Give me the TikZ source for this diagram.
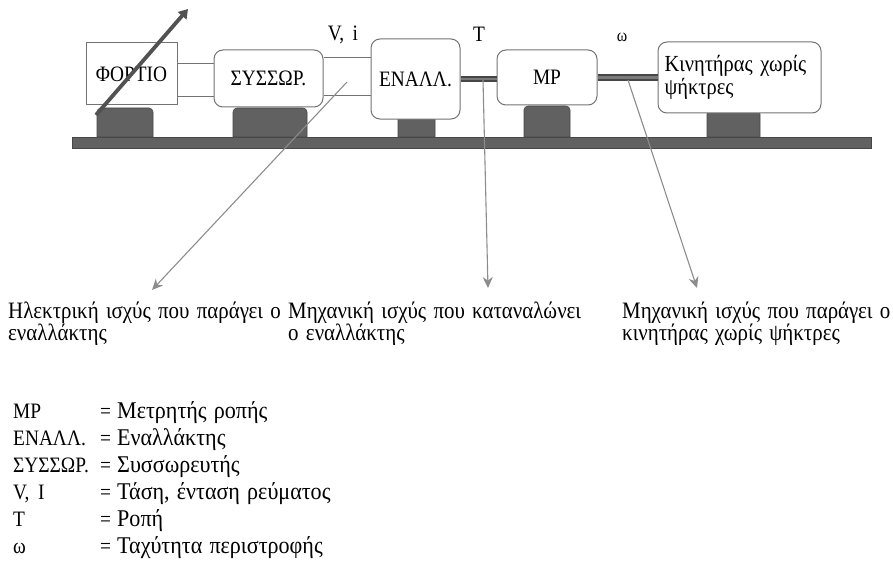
\documentclass[tikz,border=0pt]{standalone}
\usepackage{fontspec}
\setmainfont[FakeStretch=0.88]{Liberation Serif}
\newfontfamily\notefont[FakeStretch=0.89, WordSpace=1.4]{Liberation Serif}
\newfontfamily\legfont[FakeStretch=0.92, WordSpace=1.3]{Liberation Serif}
\usetikzlibrary{arrows.meta}
\begin{document}
\begin{tikzpicture}[x=1pt,y=-1pt,
  txt/.style={font=\fontsize{22}{23}\selectfont, inner sep=0pt},
  box/.style={draw=black!55, line width=1pt, rounded corners=9pt, fill=white, txt},
  sqbox/.style={draw=black!55, line width=1pt, fill=white, txt},
  ped/.style={fill=black!62, draw=black!72, line width=0.6pt},
  wire/.style={draw=black!55, line width=0.9pt},
  shaft/.style={draw=black!72, line width=1.8pt, double=black!52, double distance=2.6pt},
  ptr/.style={draw=black!45, line width=1.1pt, -{Stealth[length=11pt,width=10pt]}},
  load/.style={draw=black!68, line width=3.8pt, -{Triangle[length=9pt,width=11pt]}},
  note/.style={inner sep=0pt, font=\notefont\fontsize{23.5}{22}\selectfont, anchor=base west, align=left},
  leg/.style={txt, anchor=base west},
  legd/.style={inner sep=0pt, font=\legfont\fontsize{24}{24}\selectfont, anchor=base west},
]
\useasboundingbox (0,0) rectangle (893,575);

% base bar
\fill[black!62, draw=black!72, line width=0.6pt] (72,137) rectangle (871,148);

% pedestals
\path[ped] (97,137) [rounded corners=4pt] -- (97,108) -- (153,108) [sharp corners] -- (153,137) -- cycle;
\path[ped] (233,137) [rounded corners=4pt] -- (233,108) -- (307,108) [sharp corners] -- (307,137) -- cycle;
\path[ped] (398,137) [rounded corners=4pt] -- (398,113) -- (435,113) [sharp corners] -- (435,137) -- cycle;
\path[ped] (524,137) [rounded corners=4pt] -- (524,106) -- (570,106) [sharp corners] -- (570,137) -- cycle;
\path[ped] (707,137) [rounded corners=4pt] -- (707,110) -- (760,110) [sharp corners] -- (760,137) -- cycle;

% boxes
\node[sqbox, minimum width=91pt, minimum height=62pt] (load) at (131.5,74) {ΦΟΡΤΙΟ};
\node[box, minimum width=109pt, minimum height=57pt] (bat) at (268.5,78.5) {ΣΥΣΣΩΡ.};
\node[box, minimum width=89pt, minimum height=80pt] (alt) at (415.5,79) {ΕΝΑΛΛ.};
\node[box, minimum width=100pt, minimum height=55pt] (mp) at (547,77.5) {ΜΡ};
\node[box, minimum width=163pt, minimum height=71pt, align=left, text width=150pt,
      font=\notefont\fontsize{23}{23}\selectfont] (mot) at (739.5,77.5) {Κινητήρας χωρίς\\ψήκτρες};

% wires
\coordinate (wa) at (0,63);
\coordinate (wb) at (0,96);
\coordinate (wc) at (0,57);
\coordinate (wd) at (0,95);
\draw[wire] (load.east |- wa) -- (bat.west |- wa);
\draw[wire] (load.east |- wb) -- (bat.west |- wb);
\draw[wire] (bat.east |- wc) -- (alt.west |- wc);
\draw[wire] (bat.east |- wd) -- (alt.west |- wd);

% shafts
\coordinate (sa) at (0,79);
\draw[shaft] (alt.east |- sa) -- (mp.west |- sa);
\draw[shaft] (mp.east) -- (mot.west);

% variable load arrow
\coordinate (la) at (96,115);
\coordinate (lb) at (188,9);
\draw[load] (la) -- (lb);

% quantity labels
\node[txt] (vi) at (343,35) {V, \,i};
\node[txt] (tq) at (479,34) {Τ};
\node[txt, font=\fontsize{18}{20}\selectfont] (om) at (622,37) {ω};

% pointer arrows
\coordinate (p1) at (347,82);
\coordinate (p2) at (483,80);
\coordinate (p3) at (628,80);
\coordinate (q1) at (152,290);
\coordinate (q2) at (488,288);
\coordinate (q3) at (697,288);
\draw[ptr] (p1) -- (q1);
\draw[ptr] (p2) -- (q2);
\draw[ptr] (p3) -- (q3);

% notes
\node[note] (n1) at (8,340) {Ηλεκτρική ισχύς που παράγει ο\\εναλλάκτης};
\node[note] (n2) at (288,340) {Μηχανική ισχύς που καταναλώνει\\ο εναλλάκτης};
\node[note] (n3) at (622,340) {Μηχανική ισχύς που παράγει ο\\κινητήρας χωρίς ψήκτρες};

% legend
\foreach \k/\b [count=\i from 0] in {
  ΜΡ/Μετρητής ροπής,
  ΕΝΑΛΛ./Εναλλάκτης,
  ΣΥΣΣΩΡ./Συσσωρευτής,
  {V, \,I}/{Τάση, ένταση ρεύματος},
  Τ/Ροπή,
  ω/Ταχύτητα περιστροφής}{
  \node[leg] (k\i) at (13,{418+\i*27}) {\k};
  \node[leg] (e\i) at (100,{418+\i*27}) {=};
  \node[legd] (d\i) at (117,{418+\i*27}) {\b};
}
\end{tikzpicture}
\end{document}
